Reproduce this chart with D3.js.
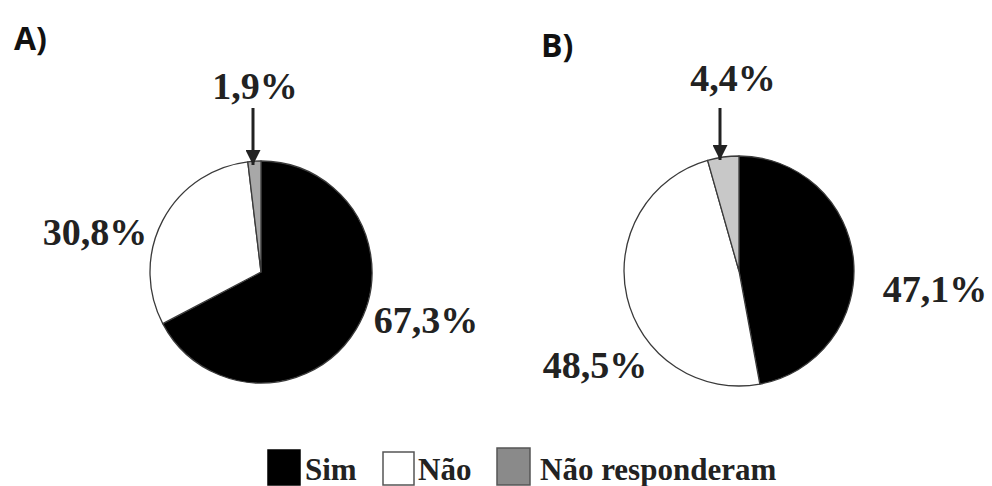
<!DOCTYPE html>
<html><head><meta charset="utf-8">
<script src="https://cdn.jsdelivr.net/npm/d3@7"></script>
<style>
html,body{margin:0;padding:0;background:#fff;}
svg{display:block;}
.serif{font-family:'Liberation Serif','DejaVu Serif','Times New Roman',Times,serif;}
</style>
</head><body>
<svg id="chart" width="992" height="486"></svg>
<script>
// ---- data ----
const categories = ["Sim", "Não", "Não responderam"];
const panelTitles = ["A)", "B)"];
const valuesA = [67.3, 30.8, 1.9];
const valuesB = [47.1, 48.5, 4.4];
const labelsA = ["67,3%", "30,8%", "1,9%"];
const labelsB = ["47,1%", "48,5%", "4,4%"];

// ---- layout / style ----
const legendColors = ["#000000", "#ffffff", "#8a8a8a"];
const panels = [
  { title: panelTitles[0], values: valuesA, labels: labelsA, cx: 261, cy: 272, r: 111,
    colors: ["#000000", "#ffffff", "#a8a8a8"], titlePos: [14, 50],
    labelPos: [[426, 333], [95, 245], [255, 99]], arrowX: 253 },
  { title: panelTitles[1], values: valuesB, labels: labelsB, cx: 739, cy: 271, r: 115,
    colors: ["#000000", "#ffffff", "#c8c8c8"], titlePos: [541, 57],
    labelPos: [[935, 302], [595, 378], [733, 91]], arrowX: 720 }
];

const svg = d3.select("#chart");
const defs = svg.append("defs");
defs.append("marker").attr("id", "ah").attr("viewBox", "0 0 10 10")
  .attr("refX", 10).attr("refY", 5).attr("markerWidth", 5).attr("markerHeight", 5)
  .attr("markerUnits", "strokeWidth").attr("orient", "auto")
  .append("path").attr("d", "M0,0 L10,5 L0,10 z").attr("fill", "#222");

const pie = d3.pie().sort(null).value(d => d);

panels.forEach(p => {
  const g = svg.append("g").attr("transform", `translate(${p.cx},${p.cy})`);
  const arc = d3.arc().innerRadius(0).outerRadius(p.r);
  g.selectAll("path.slice").data(pie(p.values)).join("path")
    .attr("class", "slice")
    .attr("d", arc)
    .attr("fill", (d, i) => p.colors[i])
    .attr("stroke", "#3a3a3a")
    .attr("stroke-width", 1.3)
    .attr("stroke-linejoin", "round");

  svg.append("text")
    .style("font-family", "'Open Sans', sans-serif").style("font-weight", 700).attr("fill", "#111")
    .attr("x", p.titlePos[0]).attr("y", p.titlePos[1])
    .style("font-size", "32px").text(p.title);

  p.labels.forEach((t, i) => {
    svg.append("text").attr("class", "serif")
      .style("font-weight", 700).attr("fill", "#222")
      .attr("x", p.labelPos[i][0]).attr("y", p.labelPos[i][1])
      .attr("text-anchor", "middle")
      .style("font-size", "38px").text(t);
  });

  // arrow pointing to the small slice
  svg.append("line")
    .attr("x1", p.arrowX).attr("x2", p.arrowX)
    .attr("y1", 108).attr("y2", p.cy - p.r + 4)
    .attr("stroke", "#222").attr("stroke-width", 3)
    .attr("marker-end", "url(#ah)");
});

// ---- legend ----
const legendItems = [
  { x: 268, tx: 305, w: 32, y: 450, h: 35 },
  { x: 383, tx: 418, w: 31, y: 452, h: 33 },
  { x: 497, tx: 540, w: 33, y: 448, h: 37 }
];
const lg = svg.append("g");
categories.forEach((c, i) => {
  const it = legendItems[i];
  lg.append("rect").attr("x", it.x).attr("y", it.y).attr("width", it.w).attr("height", it.h)
    .attr("fill", legendColors[i])
    .attr("stroke", i === 0 ? "#000" : "#555").attr("stroke-width", 1.5);
  lg.append("text").attr("class", "serif")
    .style("font-weight", 700).attr("fill", "#222")
    .attr("x", it.tx).attr("y", 480)
    .style("font-size", "31px").text(c);
});
</script>
</body></html>
